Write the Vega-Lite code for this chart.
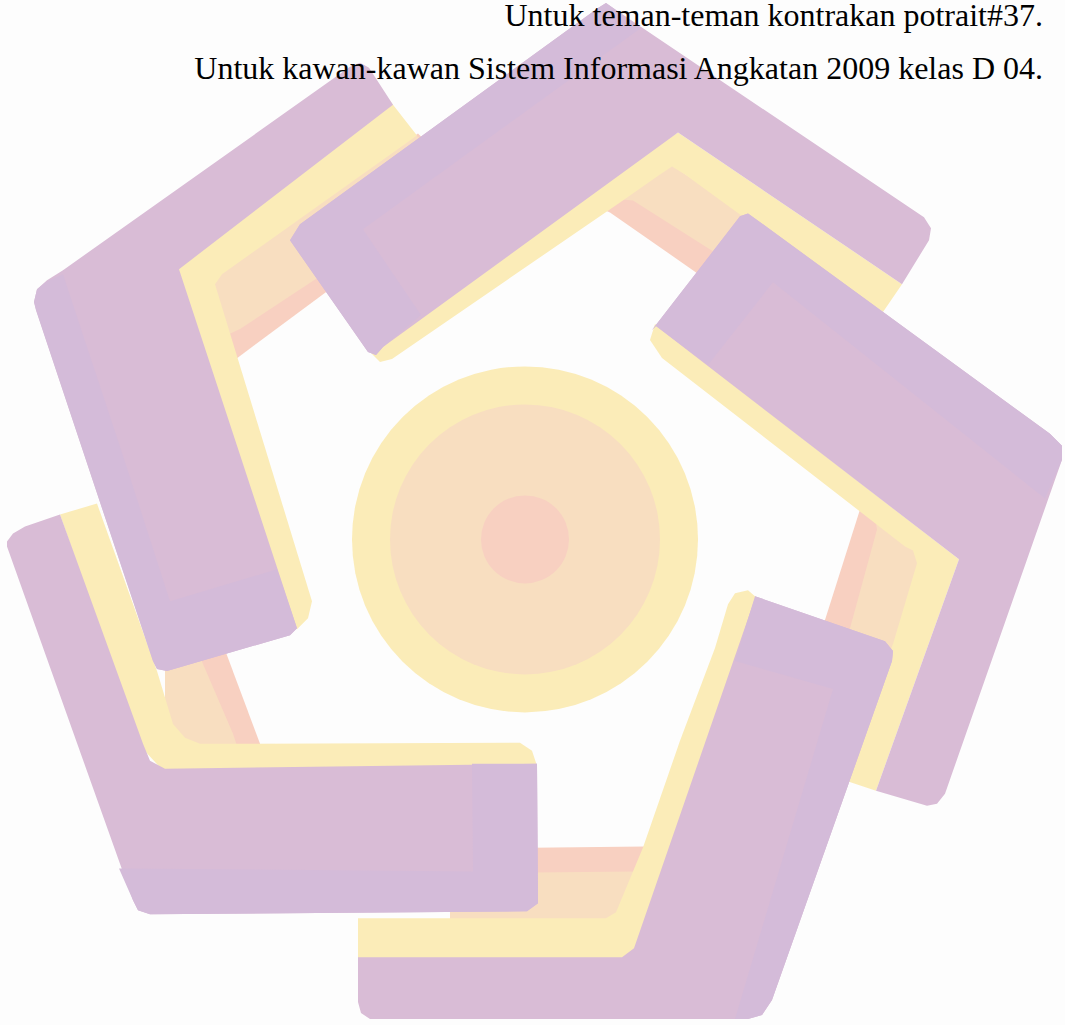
{
  "$schema": "https://vega.github.io/schema/vega-lite/v6.json",
  "width": 1065,
  "height": 1025,
  "autosize": {"type": "fit", "contains": "padding"},
  "padding": 0,
  "background": "#fdfdfd",
  "config": {"view": {"stroke": null}},
  "datasets": {
    "pink": [
      {"p":"A","i":0,"x":205,"y":275},{"p":"A","i":1,"x":418,"y":131},{"p":"A","i":2,"x":432,"y":145},{"p":"A","i":3,"x":455,"y":194},{"p":"A","i":4,"x":236,"y":357},{"p":"A","i":5,"x":222,"y":350},
      {"p":"B","i":0,"x":600,"y":203},{"p":"B","i":1,"x":672,"y":163},{"p":"B","i":2,"x":800,"y":250},{"p":"B","i":3,"x":730,"y":294},{"p":"B","i":4,"x":610,"y":210},{"p":"B","i":5,"x":603,"y":207},
      {"p":"C","i":0,"x":850,"y":495},{"p":"C","i":1,"x":915,"y":540},{"p":"C","i":2,"x":880,"y":665},{"p":"C","i":3,"x":812,"y":660},{"p":"C","i":4,"x":860,"y":508},
      {"p":"D","i":0,"x":450,"y":848},{"p":"D","i":1,"x":645,"y":846},{"p":"D","i":2,"x":625,"y":900},{"p":"D","i":3,"x":450,"y":900},
      {"p":"E","i":0,"x":180,"y":630},{"p":"E","i":1,"x":218,"y":630},{"p":"E","i":2,"x":260,"y":743},{"p":"E","i":3,"x":262,"y":750},{"p":"E","i":4,"x":180,"y":750}
    ],
    "peach": [
      {"p":"A","i":0,"x":205,"y":275},{"p":"A","i":1,"x":416,"y":133},{"p":"A","i":2,"x":432,"y":145},{"p":"A","i":3,"x":450,"y":188},{"p":"A","i":4,"x":240,"y":327},{"p":"A","i":5,"x":225,"y":334},
      {"p":"B","i":0,"x":612,"y":196},{"p":"B","i":1,"x":672,"y":163},{"p":"B","i":2,"x":800,"y":250},{"p":"B","i":3,"x":760,"y":279},{"p":"B","i":4,"x":633,"y":198},{"p":"B","i":5,"x":622,"y":197},
      {"p":"C","i":0,"x":875,"y":515},{"p":"C","i":1,"x":925,"y":550},{"p":"C","i":2,"x":900,"y":660},{"p":"C","i":3,"x":840,"y":670},{"p":"C","i":4,"x":850,"y":627},{"p":"C","i":5,"x":877,"y":528},
      {"p":"D","i":0,"x":450,"y":873},{"p":"D","i":1,"x":636,"y":871},{"p":"D","i":2,"x":620,"y":930},{"p":"D","i":3,"x":450,"y":930},
      {"p":"E","i":0,"x":165,"y":630},{"p":"E","i":1,"x":189,"y":630},{"p":"E","i":2,"x":203,"y":663},{"p":"E","i":3,"x":233,"y":733},{"p":"E","i":4,"x":238,"y":748},{"p":"E","i":5,"x":165,"y":748}
    ],
    "yellow": [
      {"p":"A","i":0,"x":385,"y":92},{"p":"A","i":1,"x":393,"y":102},{"p":"A","i":2,"x":417,"y":133},{"p":"A","i":3,"x":222,"y":272},{"p":"A","i":4,"x":215,"y":282},{"p":"A","i":5,"x":312,"y":600},{"p":"A","i":6,"x":308,"y":617},{"p":"A","i":7,"x":297,"y":628},{"p":"A","i":8,"x":250,"y":600},{"p":"A","i":9,"x":160,"y":270},
      {"p":"B","i":0,"x":360,"y":335},{"p":"B","i":1,"x":372,"y":352},{"p":"B","i":2,"x":380,"y":360},{"p":"B","i":3,"x":392,"y":357},{"p":"B","i":4,"x":620,"y":200},{"p":"B","i":5,"x":660,"y":172},{"p":"B","i":6,"x":672,"y":164},{"p":"B","i":7,"x":685,"y":172},{"p":"B","i":8,"x":740,"y":212},{"p":"B","i":9,"x":883,"y":310},{"p":"B","i":10,"x":902,"y":282},{"p":"B","i":11,"x":678,"y":130},
      {"p":"C","i":0,"x":655,"y":322},{"p":"C","i":1,"x":650,"y":338},{"p":"C","i":2,"x":662,"y":356},{"p":"C","i":3,"x":905,"y":545},{"p":"C","i":4,"x":913,"y":549},{"p":"C","i":5,"x":917,"y":562},{"p":"C","i":6,"x":893,"y":643},{"p":"C","i":7,"x":840,"y":778},{"p":"C","i":8,"x":876,"y":790},{"p":"C","i":9,"x":959,"y":558},
      {"p":"D","i":0,"x":358,"y":918},{"p":"D","i":1,"x":606,"y":918},{"p":"D","i":2,"x":616,"y":912},{"p":"D","i":3,"x":643,"y":847},{"p":"D","i":4,"x":680,"y":740},{"p":"D","i":5,"x":715,"y":647},{"p":"D","i":6,"x":728,"y":603},{"p":"D","i":7,"x":735,"y":592},{"p":"D","i":8,"x":748,"y":589},{"p":"D","i":9,"x":770,"y":608},{"p":"D","i":10,"x":650,"y":962},{"p":"D","i":11,"x":358,"y":962},
      {"p":"E","i":0,"x":60,"y":513},{"p":"E","i":1,"x":97,"y":502},{"p":"E","i":2,"x":157,"y":670},{"p":"E","i":3,"x":173,"y":723},{"p":"E","i":4,"x":185,"y":737},{"p":"E","i":5,"x":200,"y":743},{"p":"E","i":6,"x":520,"y":742},{"p":"E","i":7,"x":532,"y":750},{"p":"E","i":8,"x":537,"y":765},{"p":"E","i":9,"x":165,"y":772},{"p":"E","i":10,"x":140,"y":745}
    ],
    "purple": [
      {"p":"A","i":0,"x":34,"y":300},{"p":"A","i":1,"x":37,"y":287},{"p":"A","i":2,"x":47,"y":278},{"p":"A","i":3,"x":63,"y":268},{"p":"A","i":4,"x":350,"y":64},{"p":"A","i":5,"x":360,"y":60},{"p":"A","i":6,"x":369,"y":65},{"p":"A","i":7,"x":393,"y":102},{"p":"A","i":8,"x":179,"y":267},{"p":"A","i":9,"x":297,"y":627},{"p":"A","i":10,"x":290,"y":634},{"p":"A","i":11,"x":167,"y":670},{"p":"A","i":12,"x":157,"y":668},{"p":"A","i":13,"x":153,"y":660},{"p":"A","i":14,"x":36,"y":308},
      {"p":"B","i":0,"x":290,"y":238},{"p":"B","i":1,"x":300,"y":222},{"p":"B","i":2,"x":598,"y":5},{"p":"B","i":3,"x":606,"y":0},{"p":"B","i":4,"x":616,"y":7},{"p":"B","i":5,"x":924,"y":215},{"p":"B","i":6,"x":931,"y":226},{"p":"B","i":7,"x":929,"y":238},{"p":"B","i":8,"x":902,"y":282},{"p":"B","i":9,"x":678,"y":130},{"p":"B","i":10,"x":383,"y":345},{"p":"B","i":11,"x":376,"y":353},{"p":"B","i":12,"x":368,"y":350},
      {"p":"C","i":0,"x":652,"y":328},{"p":"C","i":1,"x":740,"y":214},{"p":"C","i":2,"x":748,"y":211},{"p":"C","i":3,"x":1050,"y":432},{"p":"C","i":4,"x":1062,"y":444},{"p":"C","i":5,"x":1062,"y":458},{"p":"C","i":6,"x":945,"y":793},{"p":"C","i":7,"x":937,"y":803},{"p":"C","i":8,"x":927,"y":805},{"p":"C","i":9,"x":876,"y":790},{"p":"C","i":10,"x":959,"y":558},{"p":"C","i":11,"x":656,"y":324},
      {"p":"D","i":0,"x":755,"y":595},{"p":"D","i":1,"x":885,"y":640},{"p":"D","i":2,"x":893,"y":650},{"p":"D","i":3,"x":892,"y":660},{"p":"D","i":4,"x":772,"y":1000},{"p":"D","i":5,"x":762,"y":1015},{"p":"D","i":6,"x":748,"y":1019},{"p":"D","i":7,"x":370,"y":1019},{"p":"D","i":8,"x":361,"y":1013},{"p":"D","i":9,"x":358,"y":1002},{"p":"D","i":10,"x":358,"y":957},{"p":"D","i":11,"x":622,"y":957},{"p":"D","i":12,"x":634,"y":948},{"p":"D","i":13,"x":755,"y":597},
      {"p":"E","i":0,"x":7,"y":540},{"p":"E","i":1,"x":13,"y":532},{"p":"E","i":2,"x":25,"y":525},{"p":"E","i":3,"x":60,"y":513},{"p":"E","i":4,"x":143,"y":743},{"p":"E","i":5,"x":150,"y":760},{"p":"E","i":6,"x":165,"y":768},{"p":"E","i":7,"x":537,"y":763},{"p":"E","i":8,"x":538,"y":903},{"p":"E","i":9,"x":527,"y":911},{"p":"E","i":10,"x":150,"y":914},{"p":"E","i":11,"x":138,"y":910},{"p":"E","i":12,"x":133,"y":900},{"p":"E","i":13,"x":7,"y":545}
    ],
    "lavender": [
      {"p":"A","i":0,"x":34,"y":300},{"p":"A","i":1,"x":37,"y":287},{"p":"A","i":2,"x":47,"y":279},{"p":"A","i":3,"x":63,"y":272},{"p":"A","i":4,"x":125,"y":460},{"p":"A","i":5,"x":170,"y":600},{"p":"A","i":6,"x":277,"y":568},{"p":"A","i":7,"x":297,"y":627},{"p":"A","i":8,"x":290,"y":634},{"p":"A","i":9,"x":167,"y":670},{"p":"A","i":10,"x":157,"y":668},{"p":"A","i":11,"x":153,"y":660},{"p":"A","i":12,"x":36,"y":308},
      {"p":"B","i":0,"x":290,"y":238},{"p":"B","i":1,"x":300,"y":222},{"p":"B","i":2,"x":598,"y":5},{"p":"B","i":3,"x":606,"y":0},{"p":"B","i":4,"x":616,"y":7},{"p":"B","i":5,"x":641,"y":25},{"p":"B","i":6,"x":363,"y":227},{"p":"B","i":7,"x":421,"y":313},{"p":"B","i":8,"x":383,"y":345},{"p":"B","i":9,"x":376,"y":353},{"p":"B","i":10,"x":368,"y":350},
      {"p":"C","i":0,"x":652,"y":328},{"p":"C","i":1,"x":740,"y":214},{"p":"C","i":2,"x":748,"y":211},{"p":"C","i":3,"x":1050,"y":432},{"p":"C","i":4,"x":1062,"y":444},{"p":"C","i":5,"x":1062,"y":458},{"p":"C","i":6,"x":1045,"y":497},{"p":"C","i":7,"x":773,"y":280},{"p":"C","i":8,"x":708,"y":363},{"p":"C","i":9,"x":656,"y":324},
      {"p":"D","i":0,"x":755,"y":595},{"p":"D","i":1,"x":885,"y":640},{"p":"D","i":2,"x":893,"y":650},{"p":"D","i":3,"x":892,"y":660},{"p":"D","i":4,"x":772,"y":1000},{"p":"D","i":5,"x":762,"y":1015},{"p":"D","i":6,"x":748,"y":1019},{"p":"D","i":7,"x":735,"y":1019},{"p":"D","i":8,"x":788,"y":840},{"p":"D","i":9,"x":833,"y":688},{"p":"D","i":10,"x":735,"y":660},
      {"p":"E","i":0,"x":119,"y":868},{"p":"E","i":1,"x":473,"y":871},{"p":"E","i":2,"x":472,"y":763},{"p":"E","i":3,"x":537,"y":763},{"p":"E","i":4,"x":538,"y":903},{"p":"E","i":5,"x":527,"y":911},{"p":"E","i":6,"x":150,"y":914},{"p":"E","i":7,"x":138,"y":910},{"p":"E","i":8,"x":133,"y":900}
    ],
    "centre": [{"x": 525, "y": 538}],
    "texts": [
      {"x": 1043, "y": 23, "label": "Untuk teman-teman kontrakan potrait#37."},
      {"x": 1043, "y": 76, "label": "Untuk kawan-kawan Sistem Informasi Angkatan 2009 kelas D 04."}
    ]
  },
  "encoding": {
    "x": {"field": "x", "type": "quantitative", "scale": {"domain": [0, 1065], "nice": false, "zero": false}, "axis": null},
    "y": {"field": "y", "type": "quantitative", "scale": {"domain": [0, 1025], "nice": false, "zero": false, "reverse": true}, "axis": null}
  },
  "layer": [
    {"data": {"name": "pink"}, "mark": {"type": "line", "interpolate": "linear-closed", "filled": true, "fill": "#F8D0C1", "strokeWidth": 0, "opacity": 1},
     "encoding": {"detail": {"field": "p"}, "order": {"field": "i", "type": "quantitative"}}},
    {"data": {"name": "peach"}, "mark": {"type": "line", "interpolate": "linear-closed", "filled": true, "fill": "#F8DEC0", "strokeWidth": 0, "opacity": 1},
     "encoding": {"detail": {"field": "p"}, "order": {"field": "i", "type": "quantitative"}}},
    {"data": {"name": "yellow"}, "mark": {"type": "line", "interpolate": "linear-closed", "filled": true, "fill": "#FBECB8", "strokeWidth": 0, "opacity": 1},
     "encoding": {"detail": {"field": "p"}, "order": {"field": "i", "type": "quantitative"}}},
    {"data": {"name": "purple"}, "mark": {"type": "line", "interpolate": "linear-closed", "filled": true, "fill": "#D9BCD6", "strokeWidth": 0, "opacity": 1},
     "encoding": {"detail": {"field": "p"}, "order": {"field": "i", "type": "quantitative"}}},
    {"data": {"name": "lavender"}, "mark": {"type": "line", "interpolate": "linear-closed", "filled": true, "fill": "#D4BBD9", "strokeWidth": 0, "opacity": 1},
     "encoding": {"detail": {"field": "p"}, "order": {"field": "i", "type": "quantitative"}}},
    {"data": {"name": "centre"}, "mark": {"type": "circle", "size": 119716, "color": "#FBECB8", "opacity": 1}},
    {"data": {"name": "centre"}, "mark": {"type": "circle", "size": 72900, "color": "#F8DEC0", "opacity": 1}},
    {"data": {"name": "centre"}, "mark": {"type": "circle", "size": 7744, "color": "#F8D0C1", "opacity": 1}},
    {"data": {"name": "texts"}, "mark": {"type": "text", "align": "right", "baseline": "alphabetic", "font": "Liberation Serif", "fontSize": 32, "color": "#000000"},
     "encoding": {"text": {"field": "label"}}}
  ]
}
